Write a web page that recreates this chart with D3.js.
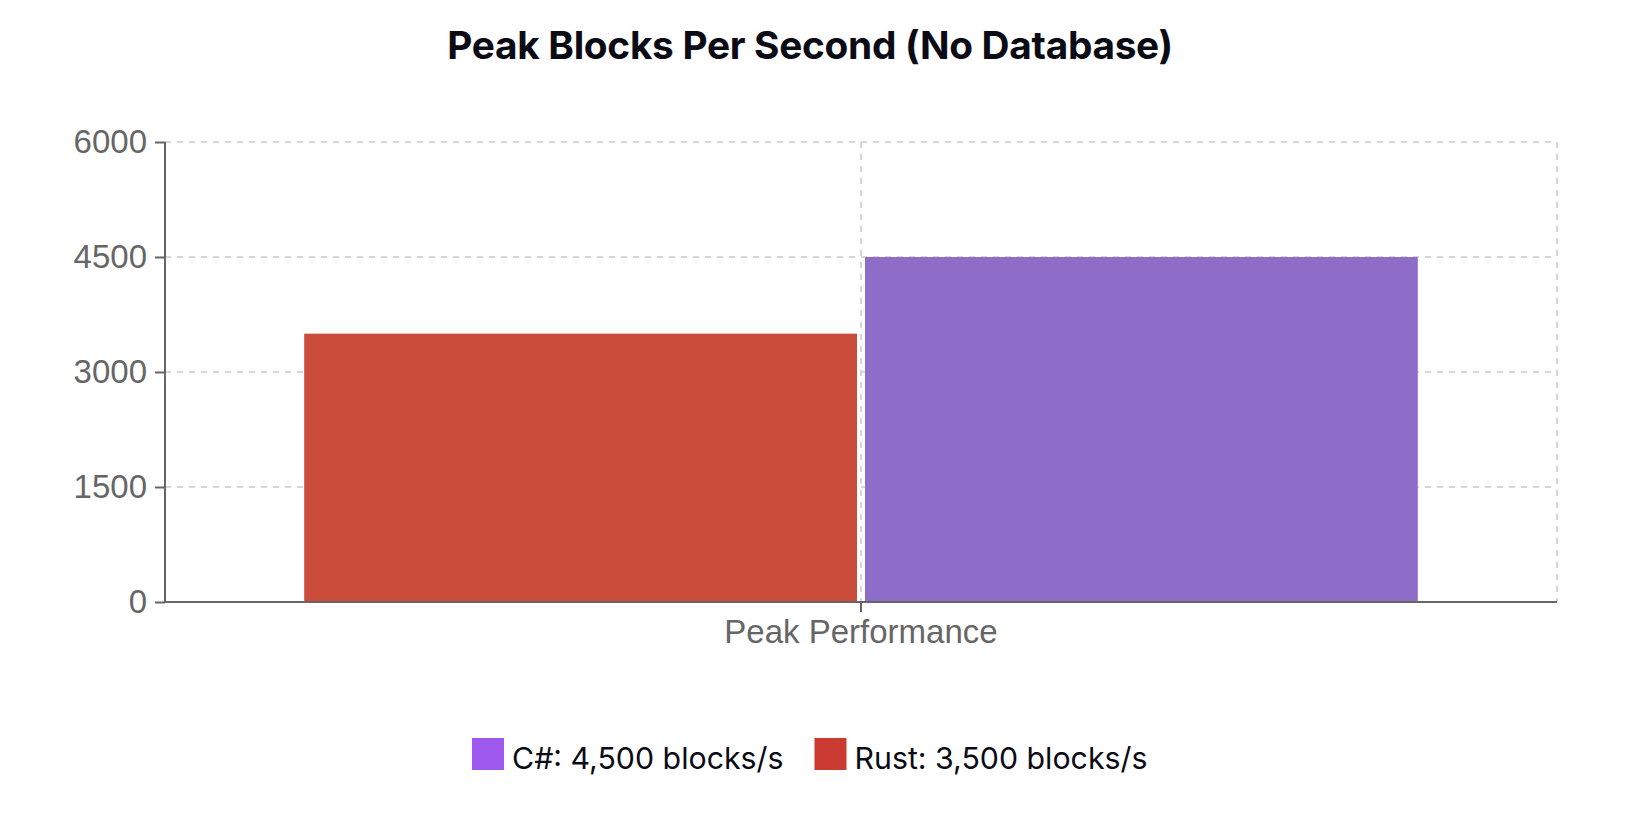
<!DOCTYPE html>
<html>
<head>
<meta charset="utf-8">
<script src="https://cdn.jsdelivr.net/npm/d3@7"></script>
<style>
  html, body { margin: 0; padding: 0; background: #fff; }
  svg { display: block; }
</style>
</head>
<body>
<svg id="chart" width="1634" height="814"></svg>
<script>
// ---- data ----
const categories = ["Peak Performance"];
const seriesNames = ["Rust", "C#"];
const rustValues = [3500];
const csharpValues = [4500];
const yTickValues = [0, 1500, 3000, 4500, 6000];
const legendOrder = ["C#", "Rust"];
const titleText = "Peak Blocks Per Second (No Database)";

const seriesValues = { "Rust": rustValues, "C#": csharpValues };
const barColors = { "Rust": "#cb4c3b", "C#": "#8e6dc8" };
const legendColors = { "Rust": "#cc3b31", "C#": "#9d59ee" };

const svg = d3.select("#chart");
const plot = { left: 165, right: 1557, top: 142, bottom: 602 };

// title
svg.append("text")
  .attr("x", 810).attr("y", 59)
  .attr("text-anchor", "middle")
  .attr("font-family", "Inter, 'Noto Sans', sans-serif")
  .attr("font-weight", 700)
  .attr("font-size", 38.8)
  .attr("letter-spacing", -0.3)
  .attr("fill", "#0b0b16")
  .text(titleText);

// scales
const x0 = d3.scaleBand().domain(categories)
  .range([plot.left, plot.right]).paddingInner(0.2).paddingOuter(0.1);
const gap = 8;
const bw = x0.bandwidth();
const innerStep = (bw + gap) / seriesNames.length;
const x1 = d3.scaleBand().domain(seriesNames)
  .range([0, bw]).paddingInner(gap / innerStep).paddingOuter(0);
const y = d3.scaleLinear().domain([0, 6000]).range([plot.bottom, plot.top]);

// grid
const grid = svg.append("g").attr("stroke", "#cccccc").attr("stroke-width", 1.6)
  .attr("stroke-dasharray", "6 6").attr("fill", "none");
yTickValues.filter(v => v !== 0).forEach(v => {
  grid.append("line").attr("x1", plot.left).attr("x2", plot.right)
    .attr("y1", y(v)).attr("y2", y(v));
});
const vLines = categories.map(c => x0(c) + bw / 2).concat([plot.right]);
vLines.forEach(xv => {
  grid.append("line").attr("x1", xv).attr("x2", xv)
    .attr("y1", plot.top).attr("y2", plot.bottom);
});

// bars
categories.forEach((c, i) => {
  seriesNames.forEach(s => {
    const v = seriesValues[s][i];
    svg.append("rect")
      .attr("x", x0(c) + x1(s))
      .attr("y", y(v))
      .attr("width", x1.bandwidth())
      .attr("height", y(0) - y(v))
      .attr("fill", barColors[s]);
  });
});

// axes
const yAxis = d3.axisLeft(y).tickValues(yTickValues).tickSize(10).tickPadding(8).tickFormat(d3.format("d"));
const gy = svg.append("g").attr("transform", `translate(${plot.left},0)`).call(yAxis);
const xAxis = d3.axisBottom(x0).tickSize(10).tickPadding(8).tickSizeOuter(0);
const gx = svg.append("g").attr("transform", `translate(0,${plot.bottom})`).call(xAxis);

[gy, gx].forEach(g => {
  g.select(".domain").attr("stroke", "#666").attr("stroke-width", 2);
  g.selectAll(".tick line").attr("stroke", "#666").attr("stroke-width", 2);
  g.selectAll(".tick text")
    .attr("fill", "#666")
    .attr("font-family", "'Liberation Sans', Arial, sans-serif")
    .attr("font-size", 33);
});
gy.select(".domain").attr("d", `M0,${plot.top}V${plot.bottom}`);
gx.select(".domain").attr("d", `M${plot.left},0H${plot.right}`);

// legend
const legend = svg.append("g");
let lx = 472;
const items = legend.selectAll("g").data(legendOrder).join("g");
items.each(function(s) {
  const g = d3.select(this);
  g.append("rect").attr("x", 0).attr("y", 738).attr("width", 32).attr("height", 32)
    .attr("fill", legendColors[s]);
  const t = g.append("text").attr("x", 40).attr("y", 769)
    .attr("font-family", "Inter, 'Noto Sans', sans-serif")
    .attr("font-size", 30.3)
    .attr("fill", "#0b0b16")
    .text(`${s}: ${d3.format(",")(seriesValues[s][0])} blocks/s`);
  const w = 40 + t.node().getComputedTextLength();
  g.attr("transform", `translate(${lx},0)`);
  lx += w + 31;
});
</script>
</body>
</html>
